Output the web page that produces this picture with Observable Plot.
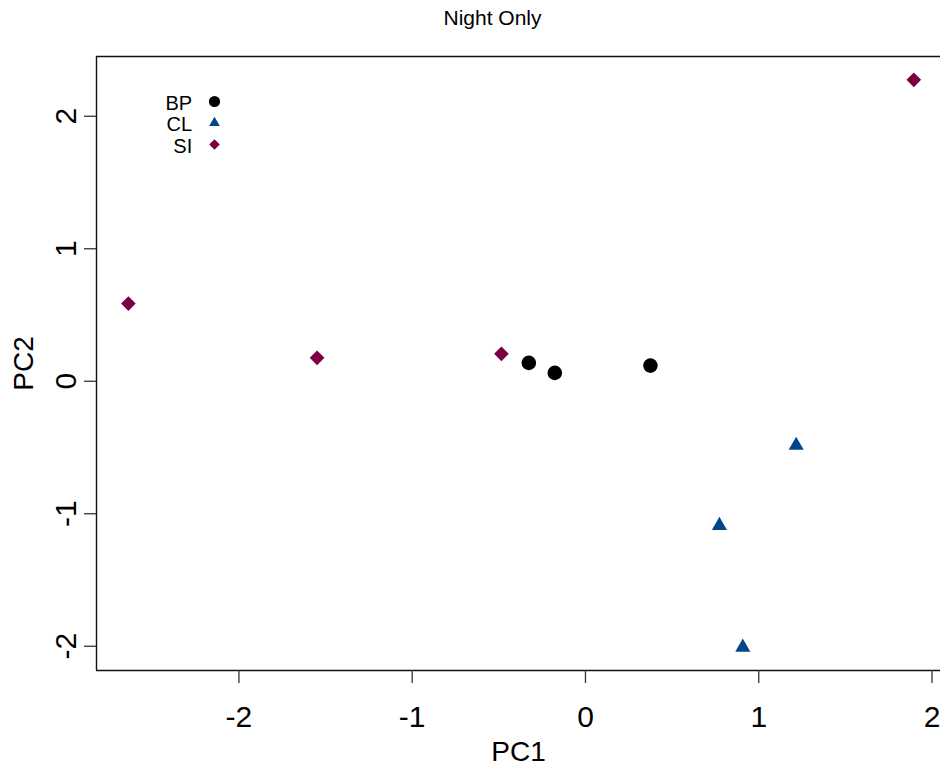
<!DOCTYPE html>
<html>
<head>
<meta charset="utf-8">
<script src="https://cdn.jsdelivr.net/npm/d3@7"></script>
<script src="https://cdn.jsdelivr.net/npm/@observablehq/plot@0.6"></script>
<style>
  html, body { margin: 0; padding: 0; background: #ffffff; }
  #chart svg { display: block; }
</style>
</head>
<body>
<div id="chart"></div>
<script>
// PCA scores, night-only samples, by site
const groups = ["BP", "CL", "SI"];
const bpPC1 = [-0.327, -0.177, 0.375];
const bpPC2 = [0.139, 0.063, 0.118];
const clPC1 = [1.216, 0.773, 0.908];
const clPC2 = [-0.485, -1.089, -2.008];
const siPC1 = [-2.638, -1.549, -0.485, 1.895];
const siPC2 = [0.586, 0.177, 0.207, 2.275];

const xTicks = [-2, -1, 0, 1, 2];
const yTicks = [-2, -1, 0, 1, 2];
const xDomain = [-2.822, 2.049];
const yDomain = [-2.183, 2.451];

const titleText = "Night Only";
const xLabel = "PC1";
const yLabel = "PC2";

// plain integer labels with an ASCII hyphen for negatives
const tickLabel = d => String(d);

// per-site symbol styling: plot size and legend size
const siteStyle = {
  BP: {symbol: "circle", fill: "#000000", r: 7.3, legendR: 5.6},
  CL: {symbol: "triangle", fill: "#00468b", r: 5.6, legendR: 4.0},
  SI: {symbol: "diamond2", fill: "#7a0042", r: 6.6, legendR: 4.8}
};

const scores = [
  ...bpPC1.map((v, i) => ({site: "BP", pc1: v, pc2: bpPC2[i]})),
  ...clPC1.map((v, i) => ({site: "CL", pc1: v, pc2: clPC2[i]})),
  ...siPC1.map((v, i) => ({site: "SI", pc1: v, pc2: siPC2[i]}))
];

const pointMarks = groups.map(g => Plot.dot(scores.filter(d => d.site === g), {
  x: "pc1", y: "pc2",
  symbol: siteStyle[g].symbol,
  fill: siteStyle[g].fill,
  stroke: "none",
  r: siteStyle[g].r
}));

// key in the upper-left corner of the panel
const legendMarks = groups.flatMap((g, i) => [
  Plot.text([g], {
    text: d => d,
    frameAnchor: "top-left",
    textAnchor: "end",
    lineAnchor: "middle",
    dx: 95.7,
    dy: 47 + 21.3 * i,
    fontSize: 20,
    fill: "#000"
  }),
  Plot.dot([g], {
    frameAnchor: "top-left",
    dx: 118,
    dy: 45 + 21.5 * i,
    symbol: siteStyle[g].symbol,
    fill: siteStyle[g].fill,
    stroke: "none",
    r: siteStyle[g].legendR
  })
]);

const chart = Plot.plot({
  width: 940,
  height: 770,
  marginLeft: 96,
  marginRight: 0,
  marginTop: 56,
  marginBottom: 100,
  style: {
    fontFamily: "'Liberation Sans', Arial, Helvetica, sans-serif",
    fontSize: "20px",
    background: "#ffffff",
    color: "#000000"
  },
  x: {domain: xDomain, nice: false},
  y: {domain: yDomain, nice: false},
  marks: [
    // panel border (left, top, bottom)
    Plot.ruleY(yDomain, {stroke: "#111", strokeWidth: 1.4}),
    Plot.ruleX([xDomain[0]], {stroke: "#111", strokeWidth: 1.4}),
    // tick marks (labels drawn separately below)
    Plot.axisX(xTicks, {
      tickSize: 13, label: null, tickFormat: () => "",
      stroke: "#333", strokeWidth: 1.3
    }),
    Plot.axisY(yTicks, {
      tickSize: 12, label: null, tickFormat: () => "",
      stroke: "#333", strokeWidth: 1.3
    }),
    // tick labels
    Plot.text(xTicks, {
      x: d => d, text: tickLabel, frameAnchor: "bottom",
      lineAnchor: "top", textAnchor: "middle", dy: 35, fontSize: 30, fill: "#000"
    }),
    Plot.text(yTicks, {
      y: d => d, text: tickLabel, frameAnchor: "left", rotate: -90,
      lineAnchor: "middle", textAnchor: "middle", dx: -30, fontSize: 30, fill: "#000"
    }),
    Plot.text([xLabel], {text: d => d, frameAnchor: "bottom", lineAnchor: "middle", textAnchor: "middle", dy: 82, fontSize: 28, fill: "#000"}),
    Plot.text([yLabel], {text: d => d, frameAnchor: "left", lineAnchor: "middle", textAnchor: "middle", dx: -72, rotate: -90, fontSize: 28, fill: "#000"}),
    Plot.text([titleText], {text: d => d, frameAnchor: "top", lineAnchor: "middle", textAnchor: "middle", dx: -26, dy: -38.5, fontSize: 21, fill: "#000"}),
    ...pointMarks,
    ...legendMarks
  ]
});

document.getElementById("chart").appendChild(chart);
</script>
</body>
</html>
